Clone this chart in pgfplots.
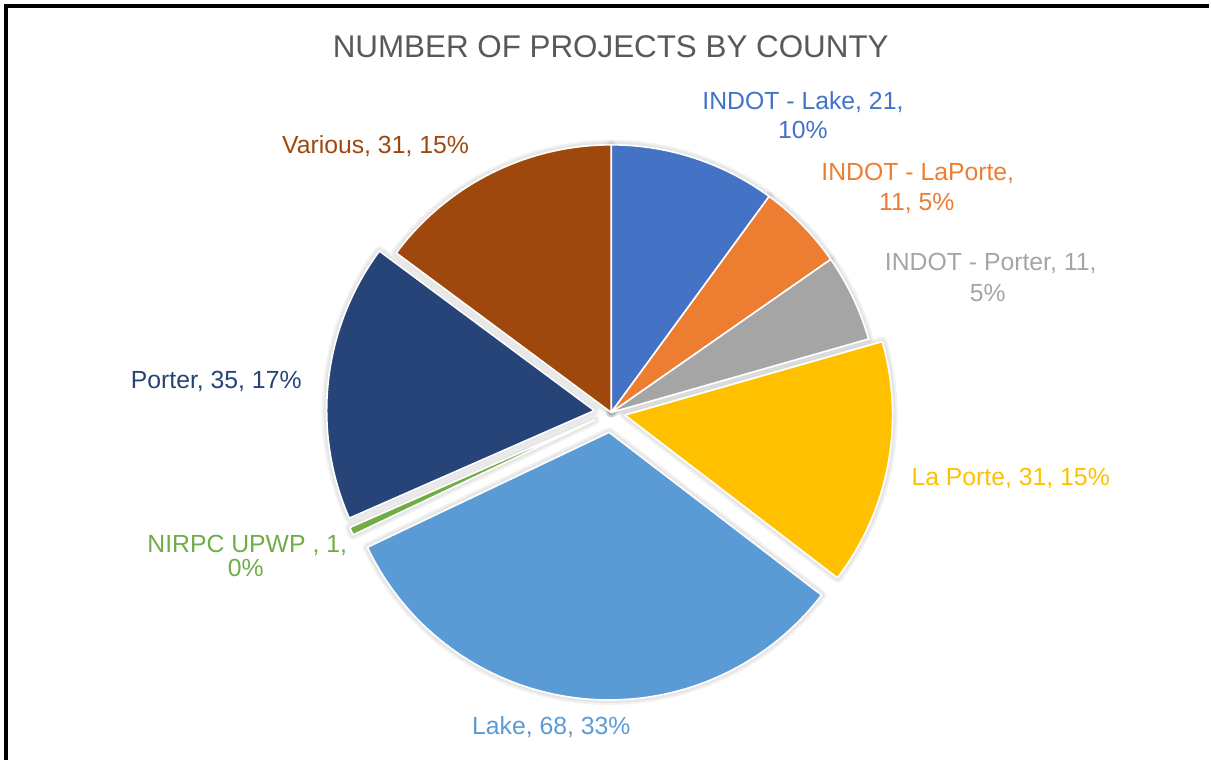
\documentclass[border=0pt]{standalone}
\usepackage{pgfplots}
\pgfplotsset{compat=1.18}
\usepackage{pgfplotstable}
\usepackage{fontspec}
\setmainfont{Liberation Sans}

\definecolor{cIL}{HTML}{4472C4}
\definecolor{cILP}{HTML}{ED7D31}
\definecolor{cIP}{HTML}{A5A5A5}
\definecolor{cLP}{HTML}{FFC000}
\definecolor{cL}{HTML}{5B9BD5}
\definecolor{cN}{HTML}{70AD47}
\definecolor{cP}{HTML}{264478}
\definecolor{cV}{HTML}{9E480E}
\definecolor{titlegray}{HTML}{595959}

% slices clockwise from 12 o'clock; explode in px
\pgfplotstableread{
name value col explode
INDOTLake 21 cIL 0
INDOTLaPorte 11 cILP 0
INDOTPorter 11 cIP 0
LaPorte 31 cLP 14
Lake 68 cL 20
NIRPC 1 cN 18
Porter 35 cP 17
Various 31 cV 0
}\piedata

\gdef\pietotal{0}
\foreach \i in {0,...,7}{%
  \pgfplotstablegetelem{\i}{value}\of\piedata
  \pgfmathsetmacro\tmpsum{\pietotal+\pgfplotsretval}%
  \xdef\pietotal{\tmpsum}%
}

% #1 = plot options
\newcommand\pieslices[1]{%
\gdef\sStart{0}%
\pgfplotsforeachungrouped \i in {0,...,7}{%
  \pgfplotstablegetelem{\i}{value}\of\piedata \let\sV\pgfplotsretval
  \pgfplotstablegetelem{\i}{col}\of\piedata \let\sCol\pgfplotsretval
  \pgfplotstablegetelem{\i}{explode}\of\piedata \let\sE\pgfplotsretval
  \pgfmathsetmacro\sA{\sStart}%
  \pgfmathsetmacro\sB{\sStart+\sV/\pietotal*360}%
  \pgfmathsetmacro\sM{(\sA+\sB)/2}%
  \pgfmathsetmacro\sCX{612+\sE*sin(\sM)}%
  \pgfmathsetmacro\sCY{413-\sE*cos(\sM)}%
  \edef\cmd{\noexpand\addplot[#1,
     domain=\sA:\sB, samples=90, variable=\noexpand\t]
     ({\sCX+268*sin(\noexpand\t)},{\sCY-268*cos(\noexpand\t)}) -- (axis cs:\sCX,\sCY) -- cycle;}%
  \cmd
  \xdef\sStart{\sB}%
}}

\begin{document}
\begin{tikzpicture}
\begin{axis}[scale only axis, width=605.5pt, height=380.5pt,
  xmin=0, xmax=1211, ymin=0, ymax=761, y dir=reverse,
  axis lines=none, xtick=\empty, ytick=\empty, clip=false]
\path (rel axis cs:0,0) rectangle (rel axis cs:1,1);
% soft shadow pass
\pieslices{draw=black, draw opacity=0.05, line width=5pt, line join=round, fill=none}
\pieslices{draw=black, draw opacity=0.05, line width=3pt, line join=round, fill=none}
% slices
\pieslices{fill=\sCol, draw=white, line width=0.8pt, line join=round}
% frame
\draw[black, line width=1.6pt] (axis cs:6,761) -- (axis cs:6,6) -- (axis cs:1211,6);
% title
\node[anchor=base, text=titlegray, font=\fontsize{15.7}{18}\selectfont] at (axis cs:611.5,58) {NUMBER OF PROJECTS BY COUNTY};
% labels
\tikzset{lbl/.style={anchor=base, font=\fontsize{12.4}{14}\selectfont}}
\node[lbl, text=cIL] at (axis cs:804,110) {INDOT - Lake, 21,};
\node[lbl, text=cIL] at (axis cs:804,139) {10\%};
\node[lbl, text=cILP] at (axis cs:919,181) {INDOT - LaPorte,};
\node[lbl, text=cILP] at (axis cs:918,211) {11, 5\%};
\node[lbl, text=cIP] at (axis cs:992,271) {INDOT - Porter, 11,};
\node[lbl, text=cIP] at (axis cs:989,302) {5\%};
\node[lbl, text=cLP] at (axis cs:1012,486) {La Porte, 31, 15\%};
\node[lbl, text=cL] at (axis cs:552,735) {Lake, 68, 33\%};
\node[lbl, text=cN] at (axis cs:247.5,553) {NIRPC UPWP , 1,};
\node[lbl, text=cN] at (axis cs:246,577) {0\%};
\node[lbl, text=cP] at (axis cs:216.5,389) {Porter, 35, 17\%};
\node[lbl, text=cV] at (axis cs:376,154) {Various, 31, 15\%};
\end{axis}
\end{tikzpicture}
\end{document}
